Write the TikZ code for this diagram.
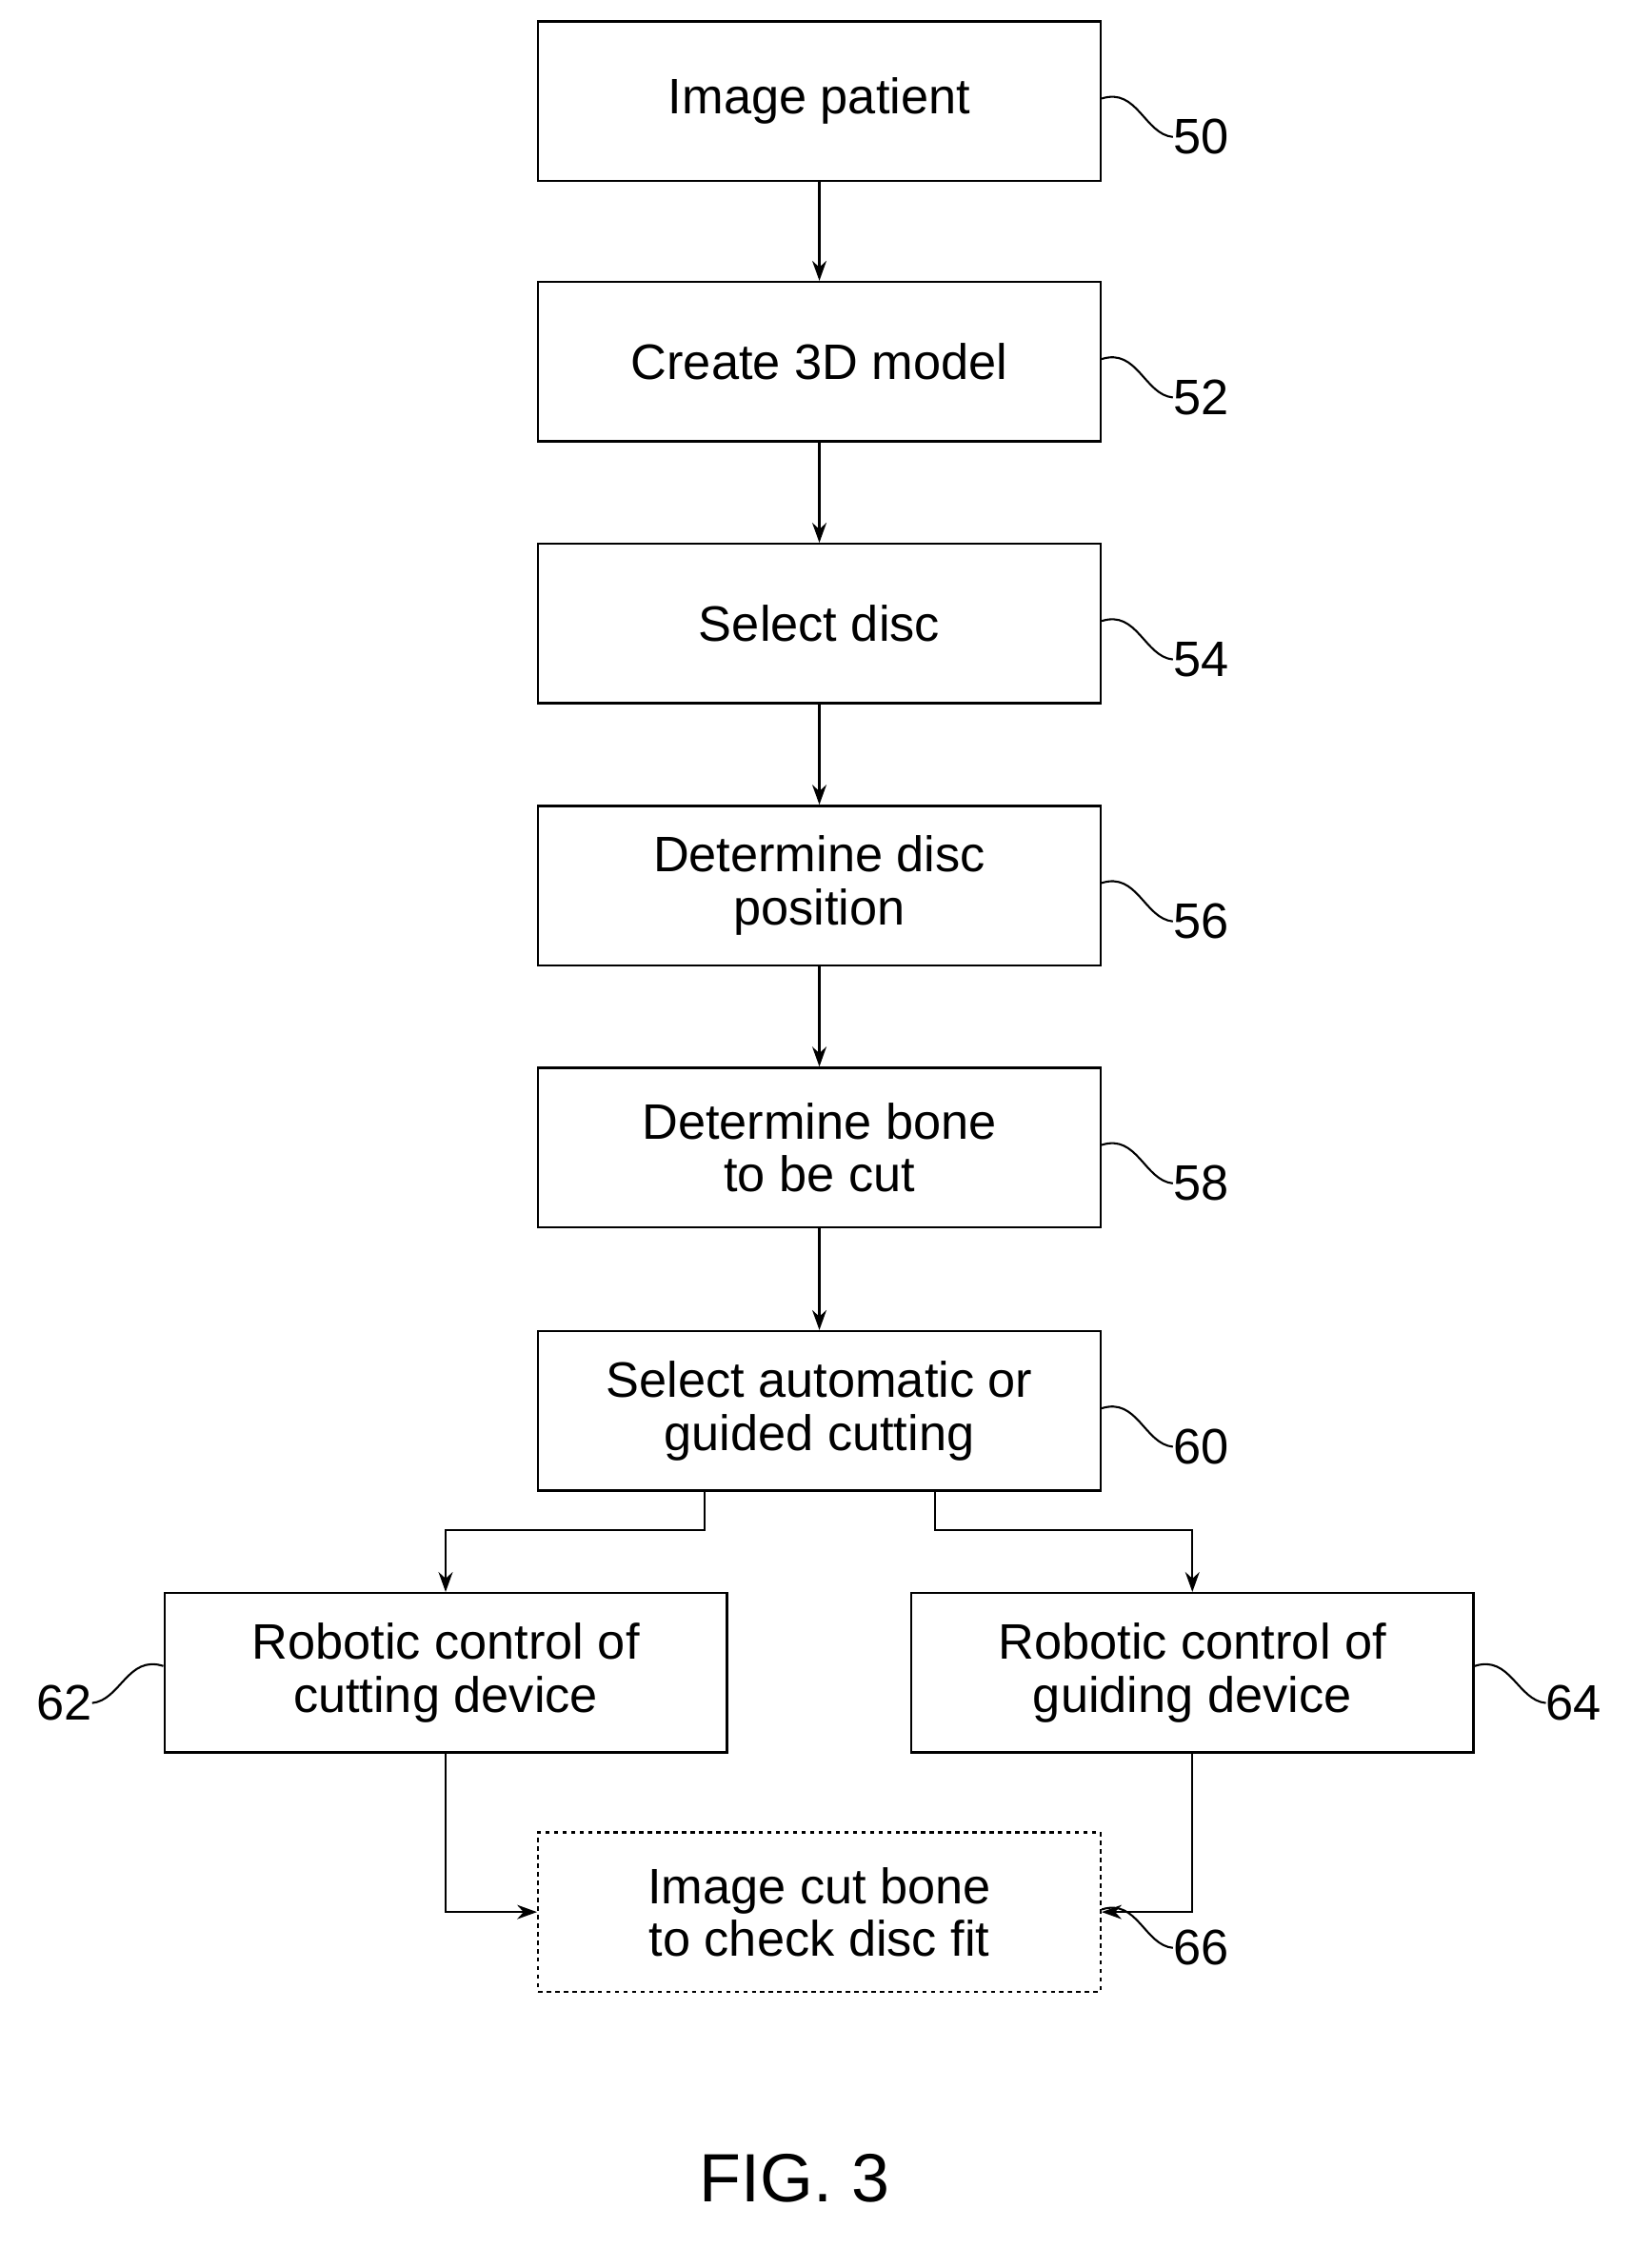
\documentclass[tikz,border=0pt]{standalone}
\usepackage{fontspec}
\setmainfont{Liberation Sans}
\usetikzlibrary{arrows.meta,positioning}
\tikzset{
  stepbox/.style={draw,line width=1.6pt,minimum width=395pt,minimum height=112pt,align=center,inner sep=0pt},
  flow/.style={line width=1.4pt,-{Stealth[length=14pt,width=10pt]}},
  lead/.style={line width=1.4pt},
}
\begin{document}
\begin{tikzpicture}[x=1pt,y=-1pt,font=\fontsize{35}{37}\selectfont]
\useasboundingbox (0,0) rectangle (1160,1579);

\node[stepbox] (s50) at (575.5,71) {Image patient};
\node[stepbox] (s52) at (575.5,254) {Create 3D model};
\node[stepbox] (s54) at (575.5,438) {Select disc};
\node[stepbox] (s56) at (575.5,622) {Determine disc\\position};
\node[stepbox] (s58) at (575.5,806) {Determine bone\\to be cut};
\node[stepbox] (s60) at (575.5,991) {Select automatic or\\guided cutting};
\node[stepbox] (s62) at (313,1175) {Robotic control of\\cutting device};
\node[stepbox] (s64) at (837.5,1175) {Robotic control of\\guiding device};
\node[stepbox,dashed] (s66) at (575.5,1343) {Image cut bone\\to check disc fit};

\draw[flow] (s50) -- (s52);
\draw[flow] (s52) -- (s54);
\draw[flow] (s54) -- (s56);
\draw[flow] (s56) -- (s58);
\draw[flow] (s58) -- (s60);
\draw[flow] (s60.south -| 495,0) |- (313,1075) -- (s62);
\draw[flow] (s60.south -| 657,0) |- (837.5,1075) -- (s64);
\draw[flow] (s62) |- (s66);
\draw[flow] (s64) |- (s66);

% reference numerals
\foreach \b/\n in {s50/50,s52/52,s54/54,s56/56,s58/58,s60/60,s66/66}{
  \node[anchor=west,inner sep=0pt] (l\n) at ([xshift=50pt,yshift=-82pt]\b.north east) {\n};
  \draw[lead] ([yshift=-55pt]\b.north east) .. controls +(25,-8) and +(-20,-2) .. (l\n.west);
}
\node[anchor=west,inner sep=0pt] (l64) at ([xshift=50pt,yshift=-78pt]s64.north east) {64};
\draw[lead] ([yshift=-52pt]s64.north east) .. controls +(25,-8) and +(-20,-2) .. (l64.west);
\node[anchor=east,inner sep=0pt] (l62) at ([xshift=-50pt,yshift=-78pt]s62.north west) {62};
\draw[lead] ([yshift=-52pt]s62.north west) .. controls +(-25,-8) and +(20,-2) .. (l62.east);

\node[font=\fontsize{48}{56}\selectfont] (fig) at (558,1530) {FIG. 3};
\end{tikzpicture}
\end{document}
